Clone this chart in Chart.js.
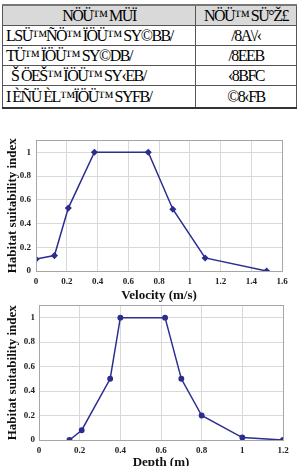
<!DOCTYPE html>
<html>
<head>
<meta charset="UTF-8">
<script src="https://cdn.jsdelivr.net/npm/chart.js"></script>
<style>
    body { margin: 0; background: #fff; width: 298px; height: 466px; overflow: hidden; position: relative; }
    table {
        position: absolute; left: 2px; top: 4px; width: 295px;
        border-collapse: collapse;
        font-family: "Liberation Serif", serif; font-size: 16px; letter-spacing: -1.5px;
    }
    th, td { border: 1px solid #555; height: 19px; padding: 0 3px; line-height: 19px; }
    th { background: #d9d9d9; font-weight: normal; text-align: center; border-top: 2px solid #777; height: 17px; }
    td:first-child { text-align: left; }
    td:last-child { text-align: center; }
    tr:last-child td { border-bottom: 2px solid #333; height: 21px; }
    .chart { position: absolute; left: 0; width: 298px; }
    #c1 { top: 130px; height: 175px; }
    #c2 { top: 296px; height: 170px; }
</style>
</head>
<body>
<table id="tbl">
    <thead><tr><th id="h1"></th><th id="h2"></th></tr></thead>
    <tbody></tbody>
</table>
<div class="chart" id="c1"><canvas id="velocity"></canvas></div>
<div class="chart" id="c2"><canvas id="depth"></canvas></div>

<script>
// table text (as it appears in the picture)
const tableHeader = ['NÖÜ™ MÜÏ', 'NÖÜ™ SÜ°Ž£'];
const tableNames = ['LSÜ™ÑÖ™ ÏÖÜ™ SY©BB/', 'TÜ™ ÏÖÜ™ SY©DB/', '\u00a0\u00a0Š ÖEŠ™ ÏÖÜ™ SY‹EB/', 'I ÈÑÜ ÈL™ÏÖÜ™ SYFB/'];
const tableValues = ['/8A\\/‹', '/8EEB', '‹8BFC', '©8‹FB'];

// velocity curve
const velocityX = [0, 0.12, 0.21, 0.38, 0.73, 0.89, 1.1, 1.5];
const velocityHSI = [0.1, 0.13, 0.53, 1, 1, 0.52, 0.11, 0];

// depth curve
const depthX = [0.15, 0.21, 0.35, 0.4, 0.62, 0.7, 0.8, 1, 1.2];
const depthHSI = [0, 0.08, 0.5, 1, 1, 0.5, 0.2, 0.02, 0];

document.getElementById('h1').textContent = tableHeader[0];
document.getElementById('h2').textContent = tableHeader[1];
const tbody = document.querySelector('#tbl tbody');
tableNames.forEach((n, i) => {
    const row = document.createElement('tr');
    const a = document.createElement('td');
    const b = document.createElement('td');
    a.textContent = n;
    b.textContent = tableValues[i];
    row.appendChild(a);
    row.appendChild(b);
    tbody.appendChild(row);
});

const lineColor = '#2b2d8f';
const gridColor = '#d9d9d9';
const tickFont = { family: 'Liberation Serif', size: 9, weight: 'bold' };
const titleFont = { family: 'Liberation Serif', size: 13, weight: 'bold' };
const fmt = v => String(Math.round(v * 10) / 10);

// box round the plot area
const frame = {
    id: 'frame',
    afterDraw(chart) {
        const a = chart.chartArea, ctx = chart.ctx;
        ctx.save();
        ctx.strokeStyle = '#a6a6a6';
        ctx.lineWidth = 1;
        ctx.strokeRect(Math.round(a.left) + 0.5, Math.round(a.top) + 0.5,
            Math.round(a.right - a.left), Math.round(a.bottom - a.top));
        ctx.restore();
    }
};

function makeChart(id, xs, ys, xMax, xTitle, pointStyle, opt) {
    new Chart(document.getElementById(id), {
        type: 'scatter',
        data: {
            datasets: [{
                data: xs.map((x, i) => ({ x: x, y: ys[i] })),
                showLine: true,
                borderColor: lineColor,
                backgroundColor: lineColor,
                borderWidth: 1.5,
                pointStyle: pointStyle,
                pointRadius: opt.radius,
                tension: 0
            }]
        },
        options: {
            responsive: true,
            maintainAspectRatio: false,
            animation: false,
            layout: { padding: { top: opt.top, right: opt.right, left: 0, bottom: 0 } },
            plugins: { legend: { display: false }, tooltip: { enabled: false } },
            scales: {
                x: {
                    type: 'linear', min: 0, max: xMax,
                    ticks: { stepSize: 0.2, font: tickFont, color: '#222', padding: 5, maxRotation: 0, includeBounds: false, callback: fmt },
                    grid: { color: gridColor, drawTicks: false },
                    border: { display: false },
                    title: { display: true, text: xTitle, font: titleFont, color: '#111', padding: { top: 0, bottom: opt.titleBottom } },
                    afterFit: s => { s.height = opt.xHeight; }
                },
                y: {
                    min: 0, max: 1.1,
                    ticks: { stepSize: 0.2, font: tickFont, color: '#222', padding: opt.yPad, includeBounds: false, callback: fmt },
                    grid: { color: gridColor, drawTicks: false },
                    border: { display: false },
                    title: { display: true, text: 'Habitat suitability index', font: titleFont, color: '#111', padding: { top: opt.yTitleTop, bottom: 0 } },
                    afterFit: s => { s.width = opt.yWidth; }
                }
            }
        },
        plugins: [frame]
    });
}

makeChart('velocity', velocityX, velocityHSI, 1.6, 'Velocity (m/s)', 'rectRot',
    { radius: 2.5, top: 8, right: 16, xHeight: 34, yWidth: 36, yPad: 5, titleBottom: 2, yTitleTop: 5 });
makeChart('depth', depthX, depthHSI, 1.2, 'Depth (m)', 'circle',
    { radius: 2.2, top: 9, right: 15, xHeight: 26, yWidth: 39, yPad: 4, titleBottom: -4, yTitleTop: 5 });
</script>
</body>
</html>
